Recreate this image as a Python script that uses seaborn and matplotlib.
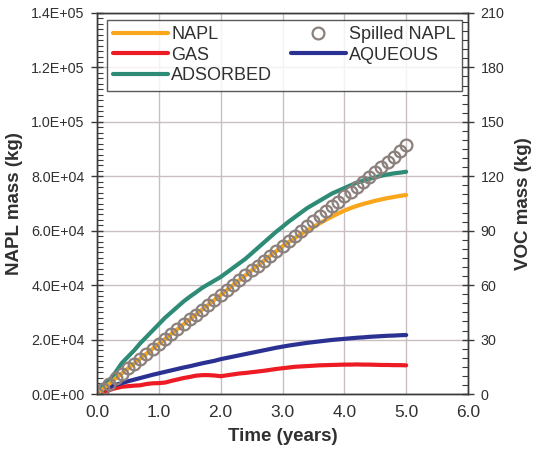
import numpy as np
import pandas as pd
import matplotlib
matplotlib.use("Agg")
import matplotlib.pyplot as plt
from matplotlib.ticker import MultipleLocator, FixedLocator, FixedFormatter
import seaborn as sns

# ---------------- data ----------------
time_years = [round(0.1 * i, 1) for i in range(51)]

spilled_napl = [0, 1900, 3800, 5700, 7500, 9400, 11200, 13000, 14800, 16600,
                18400, 20200, 22000, 23800, 25600, 27400, 29200, 31000, 32800, 34600,
                36400, 38200, 40000, 41800, 43600, 45400, 47200, 49000, 50800, 52600,
                54500, 56300, 58100, 59900, 61700, 63500, 65300, 67100, 68900, 70700,
                72600, 74400, 76200, 78000, 79800, 81600, 83500, 85300, 87200, 89300,
                91500]

napl = [0, 1900, 3800, 5700, 7500, 9400, 11200, 13000, 14800, 16600,
        18400, 20200, 22000, 23800, 25600, 27400, 29200, 31000, 32800, 34600,
        36400, 38200, 40000, 41800, 43600, 45400, 47200, 49000, 50800, 52500,
        54300, 55800, 57300, 58700, 60100, 61400, 62700, 64000, 65200, 66300,
        67400, 68300, 69100, 69800, 70400, 71000, 71500, 72000, 72400, 72800,
        73100]

gas = [0, 1.2, 2.2, 3.2, 4.0, 4.3, 4.6, 4.8, 5.5, 5.9,
       6.0, 6.3, 7.2, 8.0, 8.8, 9.4, 10.1, 10.4, 10.4, 10.2,
       9.8, 10.3, 10.8, 11.3, 11.6, 12.0, 12.4, 12.8, 13.3, 13.8,
       14.2, 14.6, 15.0, 15.2, 15.4, 15.6, 15.8, 15.9, 16.0, 16.1,
       16.2, 16.2, 16.3, 16.2, 16.2, 16.1, 16.0, 16.0, 15.9, 15.9,
       15.8]

aqueous = [0, 2.5, 4.0, 5.0, 6.0, 7.0, 7.9, 8.8, 9.7, 10.6,
           11.4, 12.2, 13.0, 13.8, 14.6, 15.3, 16.1, 16.9, 17.6, 18.3,
           19.2, 19.9, 20.6, 21.3, 22.0, 22.7, 23.4, 24.1, 24.8, 25.5,
           26.1, 26.7, 27.2, 27.7, 28.2, 28.6, 29.0, 29.4, 29.8, 30.1,
           30.4, 30.7, 31.0, 31.2, 31.5, 31.7, 31.9, 32.1, 32.2, 32.4,
           32.5]

adsorbed = [0, 4.5, 7.5, 12.0, 17.0, 20.5, 24.0, 28.0, 31.5, 35.0,
            38.5, 42.0, 45.0, 48.0, 51.0, 53.6, 56.0, 58.5, 60.5, 62.5,
            64.5, 67.0, 69.5, 72.0, 74.5, 77.5, 80.5, 83.5, 86.5, 89.5,
            92.2, 95.0, 97.5, 100.0, 102.5, 104.5, 106.5, 108.5, 110.5, 112.0,
            113.5, 115.0, 116.5, 117.5, 118.5, 119.5, 120.3, 121.0, 121.6, 122.0,
            122.5]

x_ticks = [0, 1, 2, 3, 4, 5, 6]
x_tick_labels = ["0.0", "1.0", "2.0", "3.0", "4.0", "5.0", "6.0"]
left_ticks = [0, 20000, 40000, 60000, 80000, 100000, 120000, 140000]
left_tick_labels = ["0.0E+00", "2.0E+04", "4.0E+04", "6.0E+04",
                    "8.0E+04", "1.0E+05", "1.2E+05", "1.4E+05"]
right_ticks = [0, 30, 60, 90, 120, 150, 180, 210]
right_tick_labels = ["0", "30", "60", "90", "120", "150", "180", "210"]

df = pd.DataFrame({"t": time_years, "spilled": spilled_napl, "napl": napl,
                   "gas": gas, "aqueous": aqueous, "adsorbed": adsorbed})

# ---------------- style ----------------
sns.set_theme(style="white")
plt.rcParams["font.family"] = ["Liberation Sans", "DejaVu Sans"]
plt.rcParams["axes.linewidth"] = 1.0

C_NAPL = "#f9a61a"
C_GAS = "#ed1c24"
C_ADS = "#2e8b76"
C_AQ = "#2b3192"
C_SPILL = "#8c807c"
C_SPINE = "#3a3a3a"
C_TXT = "#303030"
C_GRID = "#c9bfbf"

fig = plt.figure(figsize=(5.37, 4.63), dpi=100)
ax = fig.add_axes([97 / 537, 1 - 394 / 463, (468 - 97) / 537, (394 - 13) / 463])
ax2 = ax.twinx()

# twin (VOC) axis underneath, carrying the grid
ax.set_zorder(ax2.get_zorder() + 1)
ax.patch.set_visible(False)
ax2.xaxis.set_visible(True)

lw = 3.0
sns.lineplot(data=df, x="t", y="gas", ax=ax2, color=C_GAS, lw=lw, label="GAS", legend=False)
sns.lineplot(data=df, x="t", y="aqueous", ax=ax2, color=C_AQ, lw=lw, label="AQUEOUS", legend=False)
sns.lineplot(data=df, x="t", y="adsorbed", ax=ax2, color=C_ADS, lw=lw, label="ADSORBED", legend=False)

sns.lineplot(data=df, x="t", y="napl", ax=ax, color=C_NAPL, lw=lw, label="NAPL", legend=False)
sns.lineplot(data=df, x="t", y="spilled", ax=ax, color=C_SPILL, linestyle="none",
             marker="o", markersize=8.5, markerfacecolor="none",
             markeredgecolor=C_SPILL, markeredgewidth=1.6, label="Spilled NAPL", legend=False)

# axes limits and ticks
ax.set_xlim(0, 6)
ax.set_ylim(0, 140000)
ax2.set_ylim(0, 210)

ax.xaxis.set_major_locator(FixedLocator(x_ticks))
ax.xaxis.set_major_formatter(FixedFormatter(x_tick_labels))
ax.xaxis.set_minor_locator(MultipleLocator(0.2))
ax.yaxis.set_major_locator(FixedLocator(left_ticks))
ax.yaxis.set_major_formatter(FixedFormatter(left_tick_labels))
ax.yaxis.set_minor_locator(MultipleLocator(2000))
ax2.yaxis.set_major_locator(FixedLocator(right_ticks))
ax2.yaxis.set_major_formatter(FixedFormatter(right_tick_labels))
ax2.yaxis.set_minor_locator(MultipleLocator(5))
ax2.xaxis.set_major_locator(FixedLocator(x_ticks))
ax2.tick_params(axis="x", which="both", bottom=False, top=False,
                labelbottom=False, labeltop=False)
ax2.set_xlabel("")

ax2.grid(True, which="major", axis="both", color=C_GRID, lw=1.0)
ax2.set_axisbelow(True)
ax.grid(False)

ax.tick_params(axis="x", which="major", direction="inout", length=8, width=1.0,
               colors=C_SPINE, labelcolor=C_TXT, labelsize=12.5, pad=4)
ax.tick_params(axis="x", which="minor", direction="in", length=4, width=0.8, colors=C_SPINE)
ax.tick_params(axis="y", which="major", direction="inout", length=8, width=1.0,
               colors=C_SPINE, labelcolor=C_TXT, labelsize=10.3, pad=5, left=True)
ax.tick_params(axis="y", which="minor", direction="in", length=4, width=0.8,
               colors=C_SPINE, left=True)
ax2.tick_params(axis="y", which="major", direction="inout", length=8, width=1.0,
                colors=C_SPINE, labelcolor=C_TXT, labelsize=10.3, pad=5, right=True)
ax2.tick_params(axis="y", which="minor", direction="in", length=4, width=0.8,
                colors=C_SPINE, right=True)

for a in (ax, ax2):
    for s in a.spines.values():
        s.set_color(C_SPINE)
        s.set_linewidth(1.0)

ax.set_xlabel("Time (years)", fontsize=13.5, fontweight="bold", color=C_TXT, labelpad=6)
ax.set_ylabel("NAPL mass (kg)", fontsize=13.5, fontweight="bold", color=C_TXT, labelpad=6)
ax2.set_ylabel("VOC mass (kg)", fontsize=13.5, fontweight="bold", color=C_TXT, labelpad=8)

# legend
h1, l1 = ax.get_legend_handles_labels()
h2, l2 = ax2.get_legend_handles_labels()
hd = dict(zip(l1 + l2, h1 + h2))
order = ["NAPL", "GAS", "ADSORBED", "Spilled NAPL", "AQUEOUS"]
leg = ax.legend([hd[k] for k in order], order, ncol=2, loc="upper left",
                bbox_to_anchor=(0.027, 0.982, 0.957, 0.0), mode="expand",
                frameon=True, fancybox=False, shadow=False, fontsize=13,
                handlelength=3.0, handletextpad=0.2, labelspacing=0.2,
                borderpad=0.35, borderaxespad=0.0, columnspacing=1.0)
leg.get_frame().set_edgecolor("#303030")
leg.get_frame().set_linewidth(1.0)
for t in leg.get_texts():
    t.set_color(C_TXT)

fig.savefig("out.png", dpi=100)
